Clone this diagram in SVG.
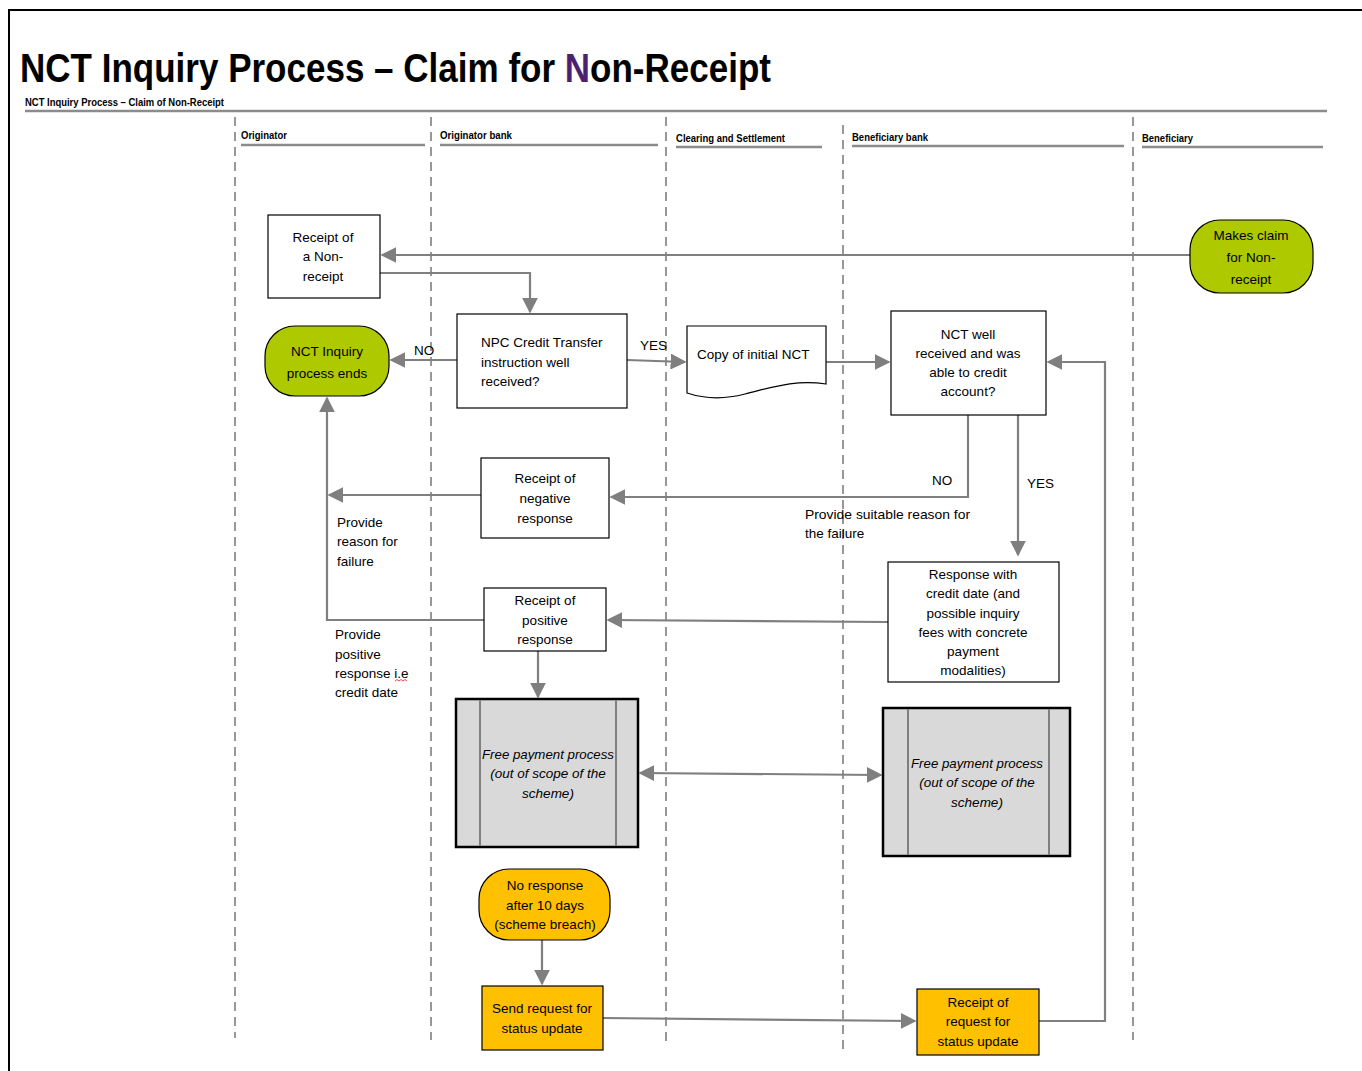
<svg xmlns="http://www.w3.org/2000/svg" width="1362" height="1071" viewBox="0 0 1362 1071">
<style>
.t{font-family:"Liberation Sans",Arial,sans-serif;font-size:13.5px;fill:#000}
.c{text-anchor:middle}
.it{font-style:italic}
.hd{font-family:"Liberation Sans",Arial,sans-serif;font-size:10px;font-weight:bold;fill:#000}
.ttl{font-family:"Liberation Sans",Arial,sans-serif;font-size:40px;font-weight:bold}
.box{fill:#fff;stroke:#000;stroke-width:1.2}
.grn{fill:#AEC900;stroke:#000;stroke-width:1.2}
.yel{fill:#FFC000;stroke:#000;stroke-width:1.2}
.fp{fill:#D9D9D9;stroke:#000;stroke-width:2.5}
.fpl{stroke:#7F7F7F;stroke-width:2;fill:none}
.cn{fill:none;stroke:#7F7F7F;stroke-width:2.2}
.ar{marker-end:url(#ah)}
.lane{stroke:#7F7F7F;stroke-width:1.6;stroke-dasharray:9,6;fill:none}
.hl{stroke:#8C8C8C;stroke-width:2.5;fill:none}
</style>
<defs>
<marker id="ah" viewBox="0 0 10 10" refX="9" refY="5" markerWidth="16" markerHeight="16" markerUnits="userSpaceOnUse" orient="auto-start-reverse">
<path d="M0,0 L10,5 L0,10 z" fill="#7F7F7F"/>
</marker>
<linearGradient id="tg" gradientUnits="userSpaceOnUse" x1="0" y1="0" x2="1362" y2="0">
<stop offset="0.4141" stop-color="#000"/>
<stop offset="0.4141" stop-color="#4B2070"/>
<stop offset="0.4339" stop-color="#4B2070"/>
<stop offset="0.4339" stop-color="#000"/>
</linearGradient>
</defs>
<rect x="0" y="0" width="1362" height="1071" fill="#fff"/>
<rect x="9" y="10" width="1370" height="1080" fill="none" stroke="#000" stroke-width="2"/>
<g id="title">
<text x="20" y="82" class="ttl" fill="url(#tg)" textLength="751" lengthAdjust="spacingAndGlyphs">NCT Inquiry Process – Claim for Non-Receipt</text>
<text x="25" y="106" class="hd" font-size="9.5" textLength="199" lengthAdjust="spacingAndGlyphs">NCT Inquiry Process – Claim of Non-Receipt</text>
<line x1="25" y1="111" x2="1327" y2="111" class="hl"/>
</g>
<g id="lanes">
<line x1="235" y1="117" x2="235" y2="1038" class="lane"/>
<line x1="431" y1="117" x2="431" y2="1040" class="lane"/>
<line x1="666" y1="117" x2="666" y2="1045" class="lane"/>
<line x1="843" y1="125" x2="843" y2="1050" class="lane"/>
<line x1="1133" y1="117" x2="1133" y2="1040" class="lane"/>
<text x="241" y="139" class="hd" textLength="46" lengthAdjust="spacingAndGlyphs">Originator</text>
<line x1="241" y1="145" x2="425" y2="145" class="hl"/>
<text x="440" y="139" class="hd" textLength="72" lengthAdjust="spacingAndGlyphs">Originator  bank</text>
<line x1="440" y1="145" x2="658" y2="145" class="hl"/>
<text x="676" y="142" class="hd" textLength="109" lengthAdjust="spacingAndGlyphs">Clearing and Settlement</text>
<line x1="676" y1="147" x2="822" y2="147" class="hl"/>
<text x="852" y="141" class="hd" textLength="76" lengthAdjust="spacingAndGlyphs">Beneficiary bank</text>
<line x1="852" y1="146" x2="1124" y2="146" class="hl"/>
<text x="1142" y="142" class="hd" textLength="51" lengthAdjust="spacingAndGlyphs">Beneficiary</text>
<line x1="1142" y1="147" x2="1323" y2="147" class="hl"/>
</g>
<g id="connectors">
<path d="M1190,255 H382" class="cn ar"/>
<path d="M380,273 H530 V312" class="cn ar"/>
<path d="M457,360 H391" class="cn ar"/>
<path d="M627,360 L685,362" class="cn ar"/>
<path d="M826,362 H889" class="cn ar"/>
<path d="M968,415 V497 H611" class="cn ar"/>
<path d="M1018,415 V555" class="cn ar"/>
<path d="M481,495 H329" class="cn ar"/>
<path d="M484,620 H327 V398" class="cn ar"/>
<path d="M888,622 L608,620" class="cn ar"/>
<path d="M538,651 V697" class="cn ar"/>
<path d="M640,773 L881,775" class="cn ar" marker-start="url(#ah)"/>
<path d="M542,940 V984" class="cn ar"/>
<path d="M603,1018 L915,1021" class="cn ar"/>
<path d="M1039,1021 H1105 V362 H1048" class="cn ar"/>
<text x="414" y="355" class="t">NO</text>
<text x="640" y="350" class="t">YES</text>
<text x="932" y="485" class="t">NO</text>
<text x="1027" y="488" class="t">YES</text>
<text x="805" y="519" class="t" textLength="165" lengthAdjust="spacingAndGlyphs">Provide suitable reason for</text>
<text x="805" y="538" class="t">the failure</text>
<text x="337" y="527" class="t">Provide</text>
<text x="337" y="546" class="t">reason for</text>
<text x="337" y="566" class="t">failure</text>
<text x="335" y="639" class="t">Provide</text>
<text x="335" y="659" class="t">positive</text>
<text x="335" y="678" class="t">response i.e</text>
<text x="335" y="697" class="t">credit date</text>
<path d="M395,681 l2,-1.5 l2,1.5 l2,-1.5 l2,1.5 l2,-1.5 l2,1.5" fill="none" stroke="#E02020" stroke-width="0.8"/>
</g>
<g id="n-makes-claim">
<rect x="1190" y="220" width="123" height="73" rx="30" class="grn"/>
<text x="1251" y="240" class="t c" font-size="15">Makes claim</text>
<text x="1251" y="262" class="t c" font-size="15">for Non-</text>
<text x="1251" y="284" class="t c" font-size="15">receipt</text>
</g>
<g id="n-receipt-nonreceipt">
<rect x="268" y="215" width="112" height="83" class="box"/>
<text x="323" y="242" class="t c">Receipt of</text>
<text x="323" y="261" class="t c">a Non-</text>
<text x="323" y="281" class="t c">receipt</text>
</g>
<g id="n-process-ends">
<rect x="265" y="326" width="124" height="70" rx="30" class="grn"/>
<text x="327" y="356" class="t c" font-size="15">NCT Inquiry</text>
<text x="327" y="378" class="t c" font-size="15">process ends</text>
</g>
<g id="n-npc-check">
<rect x="457" y="314" width="170" height="94" class="box"/>
<text x="481" y="347" class="t">NPC Credit Transfer</text>
<text x="481" y="367" class="t">instruction well</text>
<text x="481" y="386" class="t">received?</text>
</g>
<g id="n-copy-nct">
<path d="M687,326 H826 V384 C795,379 770,388 745,394 C722,400 702,398 687,393 Z" class="box"/>
<text x="697" y="359" class="t">Copy of initial NCT</text>
</g>
<g id="n-nct-well">
<rect x="891" y="311" width="155" height="104" class="box"/>
<text x="968" y="339" class="t c">NCT well</text>
<text x="968" y="358" class="t c">received and was</text>
<text x="968" y="377" class="t c">able to credit</text>
<text x="968" y="396" class="t c">account?</text>
</g>
<g id="n-negative">
<rect x="481" y="458" width="128" height="80" class="box"/>
<text x="545" y="483" class="t c">Receipt of</text>
<text x="545" y="503" class="t c">negative</text>
<text x="545" y="523" class="t c">response</text>
</g>
<g id="n-positive">
<rect x="484" y="588" width="122" height="63" class="box"/>
<text x="545" y="605" class="t c">Receipt of</text>
<text x="545" y="625" class="t c">positive</text>
<text x="545" y="644" class="t c">response</text>
</g>
<g id="n-response-credit">
<rect x="888" y="562" width="171" height="120" class="box"/>
<text x="973" y="579" class="t c">Response with</text>
<text x="973" y="598" class="t c">credit date (and</text>
<text x="973" y="618" class="t c">possible inquiry</text>
<text x="973" y="637" class="t c">fees with concrete</text>
<text x="973" y="656" class="t c">payment</text>
<text x="973" y="675" class="t c">modalities)</text>
</g>
<g id="n-free-payment-1">
<rect x="456" y="699" width="182" height="148" class="fp"/>
<line x1="480" y1="700" x2="480" y2="846" class="fpl"/>
<line x1="616" y1="700" x2="616" y2="846" class="fpl"/>
<text x="548" y="759" class="t c it" textLength="132" lengthAdjust="spacingAndGlyphs">Free payment process</text>
<text x="548" y="778" class="t c it">(out of scope of the</text>
<text x="548" y="798" class="t c it">scheme)</text>
</g>
<g id="n-free-payment-2">
<rect x="883" y="708" width="187" height="148" class="fp"/>
<line x1="908" y1="709" x2="908" y2="855" class="fpl"/>
<line x1="1049" y1="709" x2="1049" y2="855" class="fpl"/>
<text x="977" y="768" class="t c it" textLength="132" lengthAdjust="spacingAndGlyphs">Free payment process</text>
<text x="977" y="787" class="t c it">(out of scope of the</text>
<text x="977" y="807" class="t c it">scheme)</text>
</g>
<g id="n-no-response">
<rect x="479" y="869" width="131" height="71" rx="30" class="yel"/>
<text x="545" y="890" class="t c">No response</text>
<text x="545" y="910" class="t c">after 10 days</text>
<text x="545" y="929" class="t c">(scheme breach)</text>
</g>
<g id="n-send-request">
<rect x="482" y="986" width="121" height="64" class="yel"/>
<text x="542" y="1013" class="t c">Send request for</text>
<text x="542" y="1033" class="t c">status update</text>
</g>
<g id="n-receipt-request">
<rect x="917" y="989" width="122" height="66" class="yel"/>
<text x="978" y="1007" class="t c">Receipt of</text>
<text x="978" y="1026" class="t c">request for</text>
<text x="978" y="1046" class="t c">status update</text>
</g>
</svg>
